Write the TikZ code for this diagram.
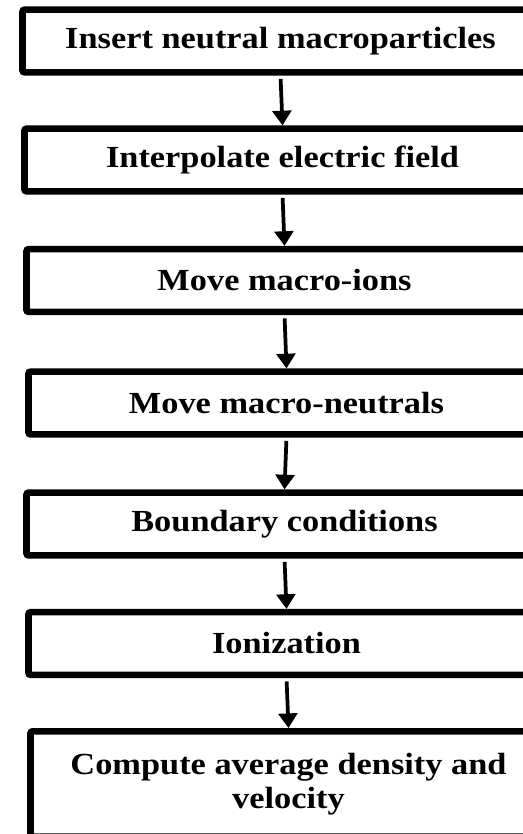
\documentclass[tikz,border=0pt]{standalone}
\usepackage{fontspec}
\setmainfont{Liberation Serif}[FakeStretch=1.12]
\usetikzlibrary{arrows.meta}

\begin{document}
\begin{tikzpicture}[x=0.75pt,y=0.75pt,yscale=-1,xscale=1,
  stagebox/.style={draw=black,line width=4.9pt,rounded corners=1.5pt,fill=white,
    minimum width=387pt,minimum height=47pt,inner sep=0pt,align=center,
    font=\fontsize{23}{26}\selectfont\bfseries},
  flowarrow/.style={line width=2.8pt,-{Triangle[width=14pt,length=11pt]},shorten <=2.5pt}]
%set diagram frame: 523 x 834, boxes run past the right edge
\useasboundingbox (0,0) rectangle (523,834);
\clip (0,0) rectangle (523,834);

% Text Node
\node [stagebox] (insert) at (280.5,41) {Insert neutral macroparticles};
% Text Node
\node [stagebox] (interp) at (282.5,160) {Interpolate electric field};
% Text Node
\node [stagebox] (moveions) at (284.5,280.5) {Move macro-ions};
% Text Node
\node [stagebox] (moveneut) at (286.5,403) {Move macro-neutrals};
% Text Node
\node [stagebox] (boundary) at (284.5,524) {Boundary conditions};
% Text Node
\node [stagebox] (ioniz) at (286.5,643.5) {Ionization};
% Text Node
\node [stagebox,minimum height=79pt] (average) at (288.5,784) {Compute average density and\\velocity};

%Straight Lines with arrows
\draw [flowarrow] (insert.south) -- (interp.north);
\draw [flowarrow] (interp.south) -- (moveions.north);
\draw [flowarrow] (moveions.south) -- (moveneut.north);
\draw [flowarrow] (moveneut.south) -- (boundary.north);
\draw [flowarrow] (boundary.south) -- (ioniz.north);
\draw [flowarrow] (ioniz.south) -- (average.north);

\end{tikzpicture}
\end{document}
